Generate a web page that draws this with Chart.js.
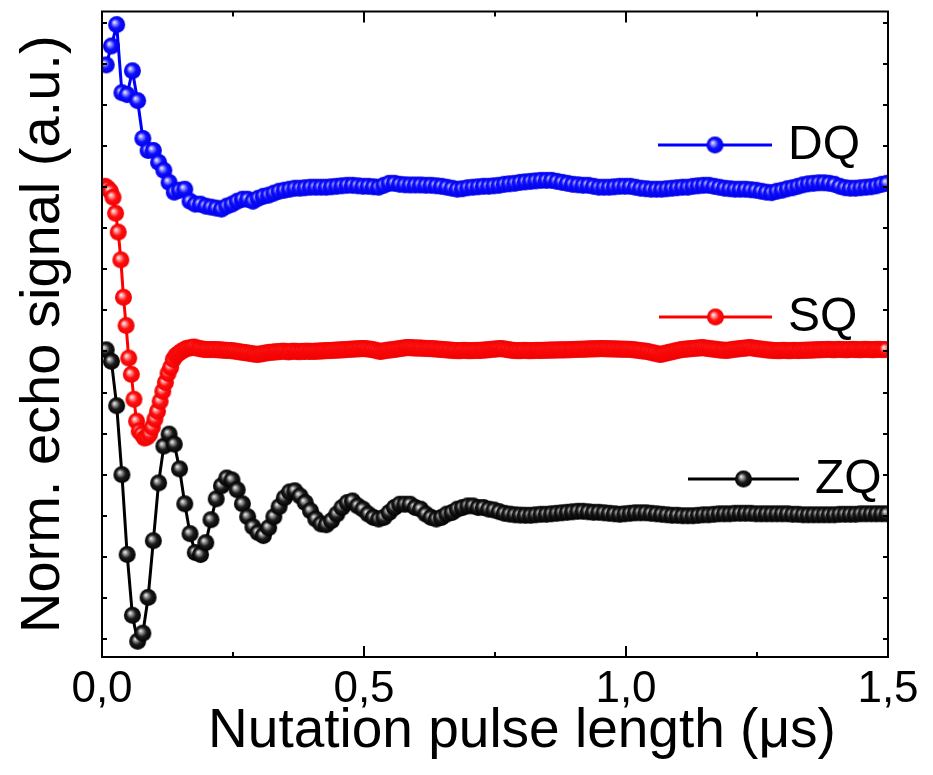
<!DOCTYPE html>
<html>
<head>
<meta charset="utf-8">
<script src="https://cdn.jsdelivr.net/npm/chart.js@4.4.0/dist/chart.umd.min.js"></script>
<style>
  body { margin: 0; background: #fff; }
  canvas { display: block; }
</style>
</head>
<body>
<canvas id="nutationChart" width="933" height="775"></canvas>
<script>
// Séries : DQ, SQ, ZQ (signal normalisé, décalé verticalement)
const seriesNames = ['DQ', 'SQ', 'ZQ'];
const seriesOffsets = [2, 1, 0];
const seriesColors = ['#0000ff', '#ff0000', '#000000'];

// grilles de temps (µs)
const dqStart = 0.008, dqStep = 0.01;
const sqStart = 0.006, sqStep = 0.005;
const zqStart = 0.008, zqStep = 0.01;

const dqSignal = [
  0.745, 0.86, 0.99, 0.576, 0.564, 0.709, 0.527, 0.297, 0.224, 0.224,
  0.152, 0.103, 0.03, -0.03, -0.018, -0.012, -0.085, -0.103, -0.103, -0.115,
  -0.121, -0.127, -0.133, -0.115, -0.103, -0.085, -0.073, -0.073, -0.085, -0.067,
  -0.055, -0.048, -0.036, -0.024, -0.018, -0.012, -0.006, -0.006, -0.003, 0,
  0, 0, 0, 0.003, 0.006, 0.009, 0.012, 0.012, 0.009, 0.006,
  0.006, 0.003, 0, 0.012, 0.024, 0.024, 0.018, 0.015, 0.014, 0.014,
  0.014, 0.012, 0.012, 0.009, 0.006, 0, -0.006, -0.012, -0.009, -0.003,
  0, 0.003, 0.006, 0.006, 0.009, 0.012, 0.018, 0.021, 0.024, 0.030,
  0.033, 0.036, 0.039, 0.042, 0.042, 0.042, 0.036, 0.030, 0.024, 0.018,
  0.015, 0.012, 0.012, 0.006, 0, 0, 0, 0.003, 0.006, 0.006,
  0.006, 0, -0.006, -0.009, -0.012, -0.012, -0.012, -0.009, -0.006, -0.003,
  0, 0, 0.006, 0.009, 0.012, 0.012, 0.006, 0, -0.006, -0.009,
  -0.012, -0.012, -0.012, -0.015, -0.018, -0.024, -0.030, -0.033, -0.024, -0.018,
  -0.009, -0.003, 0.006, 0.015, 0.021, 0.024, 0.027, 0.027, 0.024, 0.018,
  0.006, -0.003, -0.006, -0.006, -0.003, 0, 0.003, 0.009, 0.018, 0.024
];

const sqSignal = [
  1.006, 0.994, 0.976, 0.939, 0.842, 0.727, 0.558, 0.33, 0.158, -0.04,
  -0.139, -0.291, -0.424, -0.485, -0.503, -0.527, -0.521, -0.503, -0.461, -0.412,
  -0.364, -0.303, -0.242, -0.188, -0.133, -0.097, -0.048, -0.024, -0.012, 0,
  0.009, 0.018, 0.021, 0.024, 0.027, 0.021, 0.018, 0.015, 0.012, 0.012,
  0.012, 0.012, 0.012, 0.011, 0.010, 0.008, 0.007, 0.006, 0.006, 0.004,
  0.001, -0.001, -0.004, -0.006, -0.008, -0.011, -0.013, -0.016, -0.018, -0.016,
  -0.013, -0.010, -0.007, -0.005, -0.004, -0.002, -0.001, 0, 0.002, 0,
  -0.002, 0, 0.002, 0, -0.001, 0.001, 0, 0.002, 0, 0.001,
  0.001, 0.002, 0.003, 0.004, 0.005, 0.006, 0.006, 0.007, 0.008, 0.009,
  0.010, 0.011, 0.012, 0.013, 0.014, 0.015, 0.016, 0.017, 0.018, 0.018,
  0.016, 0.014, 0.012, 0.008, 0.004, 0, 0.003, 0.006, 0.008, 0.010,
  0.012, 0.014, 0.017, 0.019, 0.021, 0.024, 0.024, 0.023, 0.022, 0.021,
  0.021, 0.020, 0.019, 0.018, 0.018, 0.017, 0.016, 0.014, 0.013, 0.012,
  0.011, 0.009, 0.008, 0.006, 0.006, 0.005, 0.006, 0.007, 0.006, 0.005,
  0.006, 0.006, 0.007, 0.006, 0.008, 0.009, 0.011, 0.012, 0.014, 0.015,
  0.017, 0.018, 0.016, 0.013, 0.011, 0.008, 0.006, 0.006, 0.005, 0.006,
  0.007, 0.006, 0.005, 0.006, 0.006, 0.007, 0.006, 0.007, 0.007, 0.008,
  0.008, 0.009, 0.009, 0.010, 0.010, 0.010, 0.011, 0.011, 0.012, 0.012,
  0.013, 0.013, 0.014, 0.014, 0.015, 0.016, 0.016, 0.017, 0.017, 0.018,
  0.018, 0.017, 0.017, 0.016, 0.016, 0.015, 0.015, 0.014, 0.014, 0.013,
  0.013, 0.012, 0.010, 0.008, 0.006, 0.004, 0.002, 0, -0.004, -0.008,
  -0.011, -0.015, -0.018, -0.014, -0.010, -0.006, -0.003, 0.001, 0.005, 0.008,
  0.012, 0.013, 0.015, 0.017, 0.018, 0.019, 0.021, 0.022, 0.024, 0.021,
  0.019, 0.017, 0.015, 0.013, 0.011, 0.009, 0.008, 0.006, 0.008, 0.011,
  0.013, 0.015, 0.017, 0.019, 0.020, 0.022, 0.024, 0.022, 0.019, 0.017,
  0.015, 0.013, 0.011, 0.009, 0.008, 0.006, 0.006, 0.005, 0.006, 0.007,
  0.006, 0.005, 0.006, 0.007, 0.006, 0.006, 0.007, 0.007, 0.008, 0.008,
  0.009, 0.010, 0.011, 0.011, 0.012, 0.012, 0.013, 0.012, 0.011, 0.012,
  0.013, 0.012, 0.012, 0.011, 0.012, 0.013, 0.012, 0.012, 0.011, 0.012,
  0.013, 0.012, 0.012, 0.011, 0.012, 0.013, 0.012, 0.012, 0.012
];

const zqSignal = [
  1.01, 0.94, 0.67, 0.25, -0.236, -0.606, -0.764, -0.715, -0.497, -0.152,
  0.2, 0.424, 0.497, 0.436, 0.285, 0.073, -0.109, -0.224, -0.236, -0.164,
  -0.024, 0.103, 0.182, 0.23, 0.218, 0.158, 0.073, -0.006, -0.067, -0.103,
  -0.121, -0.073, -0.006, 0.055, 0.109, 0.145, 0.152, 0.12, 0.08, 0.03,
  -0.02, -0.05, -0.055, -0.03, 0.01, 0.05, 0.08, 0.09, 0.06, 0.04,
  0.01, -0.01, -0.02, -0.01, 0.02, 0.05, 0.07, 0.07, 0.07, 0.05,
  0.04, 0.01, -0.01, -0.02, -0.01, 0.01, 0.02, 0.04, 0.05, 0.06,
  0.06, 0.05, 0.05, 0.04, 0.035, 0.025, 0.015, 0.01, 0.006, 0.004,
  0.003, 0.003, 0.006, 0.009, 0.009, 0.012, 0.015, 0.018, 0.021, 0.024,
  0.027, 0.027, 0.024, 0.021, 0.021, 0.018, 0.015, 0.012, 0.009, 0.012,
  0.015, 0.018, 0.018, 0.018, 0.015, 0.012, 0.009, 0.006, 0.003, 0.003,
  0, 0, 0, 0.003, 0.006, 0.006, 0.009, 0.012, 0.012, 0.012,
  0.015, 0.015, 0.015, 0.015, 0.012, 0.012, 0.012, 0.012, 0.012, 0.012,
  0.012, 0.009, 0.009, 0.006, 0.006, 0.006, 0.006, 0.006, 0.006, 0.006,
  0.009, 0.009, 0.009, 0.009, 0.012, 0.012, 0.012, 0.012, 0.012, 0.012
];

// axes
const xTickValues = [0, 0.5, 1.0, 1.5];
const xMinorTicks = [0.25, 0.75, 1.25];
const yTickValues = [-0.75, -0.5, -0.25, 0, 0.25, 0.5, 0.75, 1, 1.25, 1.5, 1.75, 2, 2.25, 2.5, 2.75, 3];
const xTitle = 'Nutation pulse length (\u03bcs)';
const yTitle = 'Norm. echo signal (a.u.)';

function toPoints(signal, start, step, offset) {
    return signal.map((s, i) => ({ x: start + step * i, y: s + offset }));
}

// bille ombrée utilisée comme marqueur
function makeBall(light, mid, edge, r) {
    const c = document.createElement('canvas');
    const size = Math.ceil(r * 2) + 2;
    c.width = size;
    c.height = size;
    const g = c.getContext('2d');
    const cx = size / 2, cy = size / 2;
    const grad = g.createRadialGradient(cx - r * 0.3, cy - r * 0.3, 0, cx, cy, r);
    grad.addColorStop(0, '#ffffff');
    grad.addColorStop(0.22, light);
    grad.addColorStop(0.55, mid);
    grad.addColorStop(1, edge);
    g.fillStyle = grad;
    g.beginPath();
    g.arc(cx, cy, r, 0, Math.PI * 2);
    g.fill();
    return c;
}

const balls = [
    makeBall('#9a9aff', '#1010ff', '#0000e8', 8.5),
    makeBall('#ffa0a0', '#ff1010', '#f00000', 8.5),
    makeBall('#a0a0a0', '#1c1c1c', '#000000', 8.5)
];

const dataSets = [
    toPoints(dqSignal, dqStart, dqStep, seriesOffsets[0]),
    toPoints(sqSignal, sqStart, sqStep, seriesOffsets[1]),
    toPoints(zqSignal, zqStart, zqStep, seriesOffsets[2])
];

// cadre + graduations vers l'intérieur
const frameTicks = {
    id: 'frameTicks',
    afterDraw(chart) {
        const { ctx, chartArea: a, scales: { x, y } } = chart;
        ctx.save();
        ctx.strokeStyle = '#000';
        ctx.lineWidth = 2;
        ctx.beginPath();
        xTickValues.forEach(v => {
            const px = Math.round(x.getPixelForValue(v));
            ctx.moveTo(px, a.bottom); ctx.lineTo(px, a.bottom - 11);
            ctx.moveTo(px, a.top); ctx.lineTo(px, a.top + 11);
        });
        xMinorTicks.forEach(v => {
            const px = Math.round(x.getPixelForValue(v));
            ctx.moveTo(px, a.bottom); ctx.lineTo(px, a.bottom - 5);
            ctx.moveTo(px, a.top); ctx.lineTo(px, a.top + 5);
        });
        yTickValues.forEach(v => {
            const py = Math.round(y.getPixelForValue(v));
            ctx.moveTo(a.left, py); ctx.lineTo(a.left + 5, py);
            ctx.moveTo(a.right, py); ctx.lineTo(a.right - 5, py);
        });
        ctx.stroke();
        ctx.strokeRect(a.left, a.top, a.right - a.left, a.bottom - a.top);

        // titre de l'axe x
        ctx.fillStyle = '#000';
        ctx.font = '55px "Liberation Sans", Arial, sans-serif';
        ctx.textAlign = 'center';
        ctx.textBaseline = 'middle';
        ctx.fillText(xTitle, (a.left + a.right) / 2 + 27, 732);
        ctx.restore();
    }
};

// légende placée à côté de chaque courbe
const legendSpots = [
    { x1: 658, x2: 772, y: 145, tx: 788 },
    { x1: 659, x2: 772, y: 317, tx: 788 },
    { x1: 688, x2: 799, y: 479, tx: 815 }
];
const inlineLegend = {
    id: 'inlineLegend',
    afterDatasetsDraw(chart) {
        const ctx = chart.ctx;
        ctx.save();
        legendSpots.forEach((p, i) => {
            ctx.strokeStyle = seriesColors[i];
            ctx.lineWidth = 3;
            ctx.beginPath();
            ctx.moveTo(p.x1, p.y);
            ctx.lineTo(p.x2, p.y);
            ctx.stroke();
            const b = balls[i];
            ctx.drawImage(b, (p.x1 + p.x2) / 2 - b.width / 2, p.y - b.height / 2);
            ctx.fillStyle = '#000';
            ctx.font = '48px "Liberation Sans", Arial, sans-serif';
            ctx.textAlign = 'left';
            ctx.textBaseline = 'middle';
            ctx.fillText(seriesNames[i], p.tx, p.y + 1);
        });
        ctx.restore();
    }
};

const nutationChart = new Chart(document.getElementById('nutationChart'), {
    type: 'line',
    data: {
        datasets: seriesNames.map((name, i) => ({
            label: name,
            data: dataSets[i],
            borderColor: seriesColors[i],
            backgroundColor: seriesColors[i],
            borderWidth: 3,
            pointStyle: balls[i],
            pointRadius: 8.5,
            tension: 0,
            fill: false,
            order: i
        }))
    },
    options: {
        responsive: false,
        animation: false,
        devicePixelRatio: 1,
        layout: { padding: { top: 9, right: 45, left: 0, bottom: 0 } },
        plugins: {
            legend: { display: false },
            tooltip: { enabled: false }
        },
        scales: {
            x: {
                type: 'linear',
                min: 0,
                max: 1.5,
                afterFit: s => { s.height = 118; },
                afterBuildTicks: s => { s.ticks = xTickValues.map(v => ({ value: v })); },
                grid: { display: false, drawTicks: false },
                border: { display: false },
                ticks: {
                    padding: 6,
                    maxRotation: 0,
                    color: '#000',
                    font: { family: '"Liberation Sans", Arial, sans-serif', size: 44 },
                    callback: v => v.toFixed(1).replace('.', ',')
                }
            },
            y: {
                min: -0.86,
                max: 3.07,
                afterFit: s => { s.width = 102; },
                grid: { display: false, drawTicks: false },
                border: { display: false },
                ticks: { display: false },
                title: {
                    display: true,
                    text: yTitle,
                    color: '#000',
                    padding: { top: 10, bottom: 0 },
                    font: { family: '"Liberation Sans", Arial, sans-serif', size: 56 }
                }
            }
        }
    },
    plugins: [frameTicks, inlineLegend]
});
</script>
</body>
</html>
